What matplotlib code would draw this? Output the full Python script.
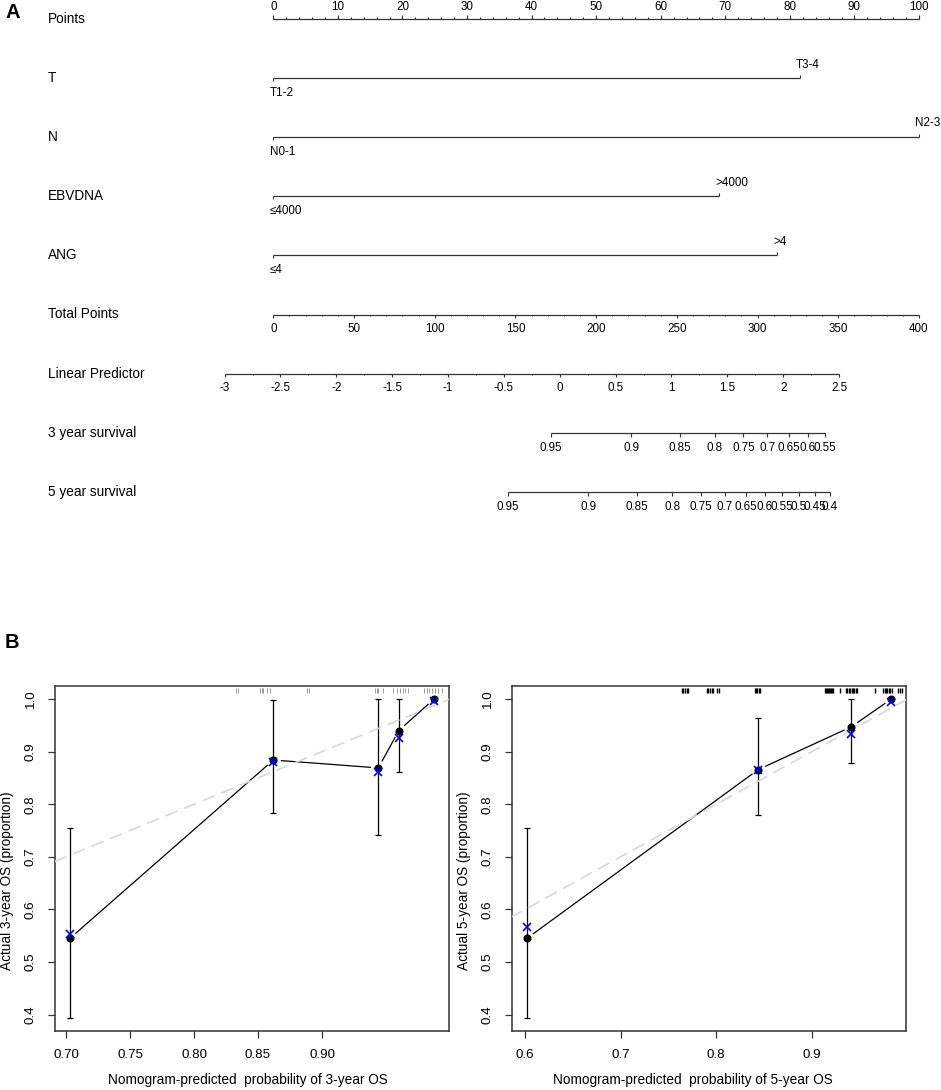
import numpy as np
import matplotlib
matplotlib.use("Agg")
import matplotlib.pyplot as plt

plt.rcParams['font.family'] = ['Liberation Sans', 'DejaVu Sans']

# ---------------- nomogram (panel A) ----------------
row_names = ["Points", "T", "N", "EBVDNA", "ANG", "Total Points",
             "Linear Predictor", "3 year survival", "5 year survival"]
factor_levels = [("T1-2", "T3-4"), ("N0-1", "N2-3"), ("≤4000", ">4000"), ("≤4", ">4")]
factor_points = [81.5, 100, 69, 78]
point_ticks = np.arange(0, 101, 10)
point_minor = np.arange(0, 101, 2)
total_ticks = np.arange(0, 401, 50)
total_minor = np.arange(0, 401, 10)
lp_ticks = np.arange(-3, 2.51, 0.5)
lp_minor = np.arange(-3, 2.51, 0.25)
lp_at_zero = -2.564      # linear predictor at 0 total points
lp_per_point = 0.01445   # linear predictor per total point
surv3_ticks = [0.95, 0.9, 0.85, 0.8, 0.75, 0.7, 0.65, 0.6, 0.55]
surv5_ticks = [0.95, 0.9, 0.85, 0.8, 0.75, 0.7, 0.65, 0.6, 0.55, 0.5, 0.45, 0.4]
base_surv3 = 0.94594
base_surv5 = 0.92171

# ---------------- calibration (panel B) ----------------
pred3 = [0.703, 0.862, 0.944, 0.960, 0.9875]
obs3 = [0.545, 0.884, 0.869, 0.940, 1.000]
corr3 = [0.553, 0.881, 0.861, 0.925, 0.996]
lo3 = [0.394, 0.783, 0.742, 0.862, 1.000]
hi3 = [0.755, 0.998, 1.000, 1.000, 1.000]
rug3 = [0.8328, 0.8346, 0.8516, 0.8529, 0.8541, 0.8568, 0.8594, 0.8880, 0.8901,
        0.9414, 0.9427, 0.9440, 0.9479, 0.9557, 0.9583, 0.9609, 0.9630, 0.9648,
        0.9674, 0.9797, 0.9818, 0.9836, 0.9857, 0.9883, 0.9909, 0.9935]

pred5 = [0.602, 0.844, 0.941, 0.983]
obs5 = [0.545, 0.866, 0.947, 1.000]
corr5 = [0.567, 0.865, 0.933, 0.995]
lo5 = [0.394, 0.780, 0.878, 1.000]
hi5 = [0.755, 0.963, 1.000, 1.000]
rug5 = [0.7638, 0.7655, 0.7672, 0.7690, 0.7707, 0.7899, 0.7916, 0.7934, 0.7951,
        0.7968, 0.8004, 0.8031, 0.8404, 0.8417, 0.8430, 0.8443, 0.8456,
        0.9136, 0.9147, 0.9157, 0.9168, 0.9178, 0.9189, 0.9199, 0.9211, 0.9223,
        0.9293, 0.9355, 0.9371, 0.9387, 0.9402, 0.9418, 0.9431, 0.9444, 0.9456,
        0.9467, 0.9658, 0.9745, 0.9759, 0.9773, 0.9789, 0.9805, 0.9819, 0.9833,
        0.9902, 0.9919, 0.9937]

W, H = 941, 1090
fig = plt.figure(figsize=(W / 100, H / 100), dpi=100)


def px_axes(l, t, r, b):
    return fig.add_axes([l / W, 1 - b / H, (r - l) / W, (b - t) / H])


LC = '#333333'
FS = 8.4      # axis labels in the nomogram
FS_VAR = 9.8  # variable names
nom = px_axes(0, 0, W, 560)
nom.axis('off')
px0, px100 = 273.3, 919.0
ppx = (px100 - px0) / 100.0
nom.set_xlim(-px0 / ppx, (W - px0) / ppx)
row0, row_step = 19.0, 59.1
nom.set_ylim((560 - row0) / row_step, -row0 / row_step)
PY = 1.0 / row_step


def lab(x, row, s, dx=0.0, dy=0.0, ha='center'):
    nom.annotate(s, (x, row), xytext=(dx * 0.72, dy * 0.72), textcoords='offset points',
                 ha=ha, va='center', fontsize=FS)


def hline(row, x0, x1):
    nom.plot([x0, x1], [row, row], color=LC, lw=0.9, solid_capstyle='butt')


def ticks(row, xs, length):
    nom.vlines(xs, row, row + length * PY, color=LC, lw=0.8)


name_x = (48 - px0) / ppx
for i, name in enumerate(row_names):
    nom.text(name_x, i, name, ha='left', va='center', fontsize=FS_VAR)

# Points
hline(0, 0, 100)
ticks(0, point_minor, -2)
ticks(0, point_ticks, -4.3)
for v in point_ticks:
    lab(v, 0, '%d' % v, dy=12)

# factor rows
for k, (levels, pmax) in enumerate(zip(factor_levels, factor_points)):
    r = k + 1
    hline(r, 0, pmax)
    ticks(r, [0], 3)
    ticks(r, [pmax], -3)
    lab(0, r, levels[0], dx=-3.5, dy=-14.5, ha='left')
    if pmax >= 100:
        lab(pmax, r, levels[1], dx=21, dy=14.5, ha='right')
    else:
        lab(pmax, r, levels[1], dx=-3.5, dy=13.5, ha='left')

# Total points
hline(5, 0, 100)
ticks(5, total_minor / 4.0, 1.8)
ticks(5, total_ticks / 4.0, 3.3)
for v in total_ticks:
    lab(v / 4.0, 5, '%d' % v, dy=-14)


def lp_pos(lp):
    return (np.asarray(lp) - lp_at_zero) / lp_per_point / 4.0


# Linear predictor
lpx = lp_pos(lp_ticks)
hline(6, lpx[0], lpx[-1])
ticks(6, lp_pos(lp_minor), 1.8)
ticks(6, lpx, 3.3)
for v, x in zip(lp_ticks, lpx):
    lab(x, 6, '%g' % v, dy=-14)


def surv_pos(s, s0):
    s = np.asarray(s)
    lp = np.log(np.log(s) / np.log(s0))
    return lp_pos(lp)


for r, st, s0 in [(7, surv3_ticks, base_surv3), (8, surv5_ticks, base_surv5)]:
    sx = surv_pos(st, s0)
    hline(r, sx[0], sx[-1])
    ticks(r, sx, 4)
    for v, x in zip(st, sx):
        lab(x, r, '%g' % v, dy=-15)

fig.text(6 / W, 1 - 12 / H, 'A', ha='left', va='center', fontsize=14.5, weight='bold')
fig.text(5 / W, 1 - 642 / H, 'B', ha='left', va='center', fontsize=14.5, weight='bold')


# ---------------- calibration plots ----------------
def calib(ax, pred, obs, corr, lo, hi, rug, rug_color, rug_lw, xlim, xticks, xlabels,
          xlabel, ylabel, xlab_frac, ylab_frac):
    pred = np.asarray(pred)
    obs = np.asarray(obs)
    ax.set_xlim(xlim)
    ax.set_ylim(0.369, 1.0247)
    for sp in ax.spines.values():
        sp.set_color(LC)
        sp.set_linewidth(1.1)
    ax.set_xticks(xticks)
    ax.set_xticklabels(xlabels)
    yt = [0.4, 0.5, 0.6, 0.7, 0.8, 0.9, 1.0]
    ax.set_yticks(yt)
    ax.set_yticklabels(['%.1f' % v for v in yt], rotation=90, va='center')
    ax.tick_params(direction='out', length=5, width=0.9, color=LC, labelsize=9.6, pad=8)

    ax.errorbar(pred, obs, yerr=[obs - np.asarray(lo), np.asarray(hi) - obs], fmt='none',
                ecolor='k', elinewidth=0.9, capsize=2.2, capthick=0.9, zorder=2)
    # line with gaps around points (R type="b")
    gap = 8.0
    d = ax.transData.transform(np.column_stack([pred, obs]))
    inv = ax.transData.inverted()
    for p0, p1 in zip(d[:-1], d[1:]):
        v = p1 - p0
        u = v / np.hypot(v[0], v[1])
        seg = inv.transform(np.array([p0 + u * gap, p1 - u * gap]))
        ax.plot(seg[:, 0], seg[:, 1], color='k', lw=0.9, zorder=3)
    ax.plot([0, 1], [0, 1], color='#d8d8d8', lw=1.2, dashes=(7.8, 4.2), zorder=4)
    ax.plot(pred, obs, 'o', color='k', ms=4.8, zorder=5)
    ax.plot(pred, corr, 'x', color='#0000ff', ms=5.5, mew=1.2, zorder=6)
    ax.vlines(rug, 0.98, 0.995, transform=ax.get_xaxis_transform(), color=rug_color,
              lw=rug_lw, zorder=3)
    ax.text(xlab_frac, -0.142, xlabel, transform=ax.transAxes, ha='center', va='center',
            fontsize=9.8)
    ax.text(-47.5 / 394.0, ylab_frac, ylabel, transform=ax.transAxes, ha='center',
            va='center', rotation=90, fontsize=9.8)


ax1 = px_axes(55, 686, 449, 1031)
calib(ax1, pred3, obs3, corr3, lo3, hi3, rug3, '#9a9a9a', 0.7, (0.6914, 0.9992),
      [0.70, 0.75, 0.80, 0.85, 0.90], ['0.70', '0.75', '0.80', '0.85', '0.90'],
      'Nomogram-predicted  probability of 3-year OS', 'Actual 3-year OS (proportion)',
      0.49, 0.435)

ax2 = px_axes(511.7, 686, 906, 1031)
calib(ax2, pred5, obs5, corr5, lo5, hi5, rug5, 'k', 1.0, (0.5861, 0.9983),
      [0.6, 0.7, 0.8, 0.9], ['0.6', '0.7', '0.8', '0.9'],
      'Nomogram-predicted  probability of 5-year OS', 'Actual 5-year OS (proportion)',
      0.46, 0.435)

fig.savefig('out.png', dpi=100)
